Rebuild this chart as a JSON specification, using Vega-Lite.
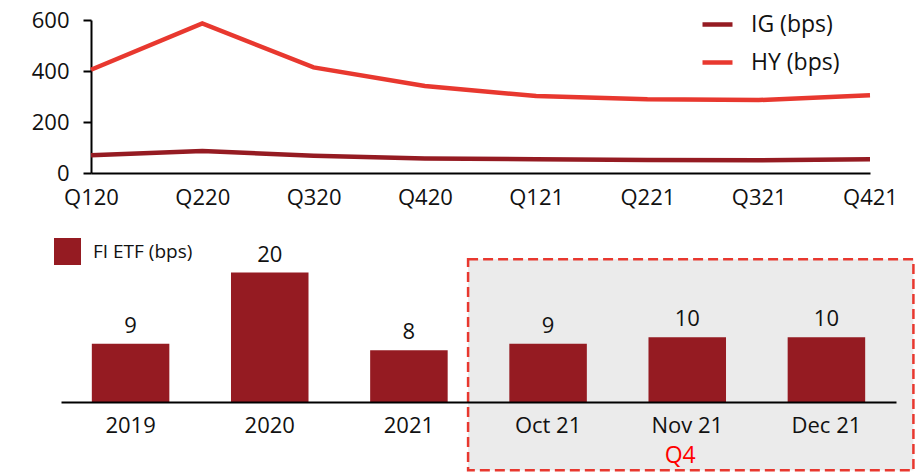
{
  "$schema": "https://vega.github.io/schema/vega-lite/v6.json",
  "autosize": {"type": "pad"},
  "padding": {"left": 31, "top": 7, "right": 0, "bottom": 0},
  "background": "white",
  "bounds": "flush",
  "spacing": 79,
  "config": {
    "font": "Open Sans",
    "view": {"stroke": null},
    "axis": {"domainColor": "black", "domainWidth": 2, "labelFontSize": 22, "labelColor": "#111", "grid": false, "tickColor": "black"},
    "axisX": {"ticks": false, "tickSize": 0, "labelAngle": 0, "labelPadding": 12},
    "axisY": {"tickSize": 8, "tickWidth": 2, "labelPadding": 14}
  },
  "resolve": {"scale": {"color": "independent"}, "legend": {"color": "independent"}},
  "vconcat": [
    {
      "width": 779,
      "height": 153,
      "data": {"values": [
        {"quarter": "Q120", "series": "IG (bps)", "bps": 70},
        {"quarter": "Q220", "series": "IG (bps)", "bps": 86},
        {"quarter": "Q320", "series": "IG (bps)", "bps": 68},
        {"quarter": "Q420", "series": "IG (bps)", "bps": 57},
        {"quarter": "Q121", "series": "IG (bps)", "bps": 54},
        {"quarter": "Q221", "series": "IG (bps)", "bps": 51},
        {"quarter": "Q321", "series": "IG (bps)", "bps": 50},
        {"quarter": "Q421", "series": "IG (bps)", "bps": 54},
        {"quarter": "Q120", "series": "HY (bps)", "bps": 405},
        {"quarter": "Q220", "series": "HY (bps)", "bps": 587},
        {"quarter": "Q320", "series": "HY (bps)", "bps": 414},
        {"quarter": "Q420", "series": "HY (bps)", "bps": 341},
        {"quarter": "Q121", "series": "HY (bps)", "bps": 302},
        {"quarter": "Q221", "series": "HY (bps)", "bps": 289},
        {"quarter": "Q321", "series": "HY (bps)", "bps": 286},
        {"quarter": "Q421", "series": "HY (bps)", "bps": 305}
      ]},
      "mark": {"type": "line", "strokeWidth": 4.5},
      "encoding": {
        "x": {"field": "quarter", "type": "ordinal", "sort": ["Q120", "Q220", "Q320", "Q420", "Q121", "Q221", "Q321", "Q421"], "title": null, "scale": {"type": "point", "padding": 0}, "axis": {"labelPadding": 14}},
        "y": {"field": "bps", "type": "quantitative", "title": null, "scale": {"domain": [0, 600], "nice": false}, "axis": {"values": [0, 200, 400, 600]}},
        "color": {
          "field": "series", "type": "nominal", "title": null,
          "scale": {"domain": ["IG (bps)", "HY (bps)"], "range": ["#951b22", "#e8382f"]},
          "legend": {"orient": "none", "legendX": 609, "legendY": -13, "symbolType": "stroke", "symbolSize": 900, "symbolStrokeWidth": 4.5, "labelFontSize": 23, "labelOffset": 16, "rowPadding": 8, "padding": 0, "labelColor": "#111"}
        }
      }
    },
    {
      "width": 805,
      "height": 150,
      "encoding": {
        "x": {
          "field": "period", "type": "nominal", "title": null,
          "scale": {"domain": ["2019", "2020", "2021", "Oct 21", "Nov 21", "Dec 21"], "range": [-30, 805], "paddingInner": 0.443, "paddingOuter": 0.2215},
          "axis": {"labelPadding": 13}
        }
      },
      "layer": [
        {
          "data": {"values": [{"period": "Oct 21", "end": "Dec 21"}]},
          "mark": {"type": "rect", "fill": "#ebebeb", "stroke": "#e8382f", "strokeWidth": 2.5, "strokeDash": [10, 5], "xOffset": -80, "x2Offset": 87},
          "encoding": {
            "x2": {"field": "end"},
            "y": {"datum": 22.06},
            "y2": {"datum": -10.56}
          }
        },
        {
          "data": {"values": [
            {"period": "2019", "series": "FI ETF (bps)", "bps": 9},
            {"period": "2020", "series": "FI ETF (bps)", "bps": 20},
            {"period": "2021", "series": "FI ETF (bps)", "bps": 8},
            {"period": "Oct 21", "series": "FI ETF (bps)", "bps": 9},
            {"period": "Nov 21", "series": "FI ETF (bps)", "bps": 10},
            {"period": "Dec 21", "series": "FI ETF (bps)", "bps": 10}
          ]},
          "layer": [
            {
              "mark": {"type": "bar"},
              "encoding": {
                "y": {"field": "bps", "type": "quantitative", "title": null, "scale": {"domain": [0, 23.18], "nice": false}, "axis": null},
                "color": {
                  "field": "series", "type": "nominal", "title": null,
                  "scale": {"range": ["#951b22"]},
                  "legend": {"orient": "none", "legendX": -37, "legendY": -14, "symbolType": "square", "symbolSize": 729, "symbolStrokeWidth": 0, "symbolOpacity": 1, "labelFontSize": 19, "labelOffset": 12, "padding": 0, "labelColor": "#111"}
                }
              }
            },
            {
              "mark": {"type": "text", "baseline": "alphabetic", "dy": -11, "fontSize": 22, "color": "#111"},
              "encoding": {
                "y": {"field": "bps", "type": "quantitative", "title": null},
                "text": {"field": "bps", "type": "quantitative"}
              }
            }
          ]
        },
        {
          "data": {"values": [{"period": "Nov 21", "label": "Q4"}]},
          "mark": {"type": "text", "baseline": "middle", "fontSize": 23, "color": "#ff0000", "dx": -7},
          "encoding": {
            "y": {"datum": -8.4},
            "text": {"field": "label", "type": "nominal"}
          }
        }
      ]
    }
  ]
}
